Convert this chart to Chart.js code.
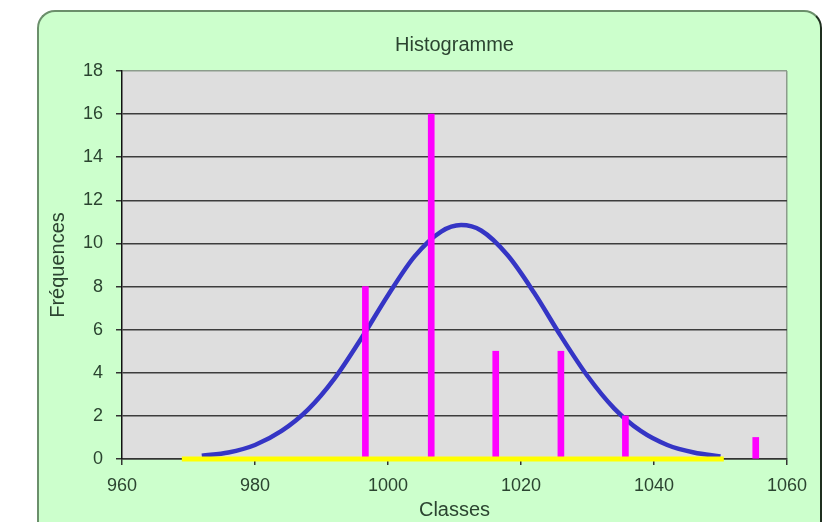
<!DOCTYPE html>
<html>
<head>
<meta charset="utf-8">
<title>Histogramme</title>
<script src="https://cdn.jsdelivr.net/npm/chart.js@4"></script>
<style>
  body { margin: 0; background: #fff; overflow: hidden; }
  #cadre {
    position: absolute; left: 37px; top: 10px;
    width: 781px; height: 540px;
    background: #ccffcc;
    border: 2px solid #6b8f6b;
    border-right-color: #1f2f1f;
    border-radius: 18px;
  }
  #c { position: absolute; left: 0; top: 0; }
</style>
</head>
<body>
<div id="cadre"></div>
<canvas id="c" width="826" height="522"></canvas>
<script>
/* global Chart */

var classes = [996.6, 1006.5, 1016.2, 1026.0, 1035.7, 1045.5, 1055.3];
var frequences = [8, 16, 5, 5, 2, 0, 1];

// courbe bleue relevée point par point
var courbeX = [972, 976, 980, 984, 988, 992, 996, 1000, 1004, 1008, 1011,
               1014, 1018, 1022, 1026, 1030, 1034, 1038, 1042, 1046, 1050];
var courbeY = [0.15, 0.3, 0.65, 1.3, 2.3, 3.75, 5.6, 7.6, 9.4, 10.55, 10.85,
               10.6, 9.45, 7.7, 5.7, 3.85, 2.35, 1.3, 0.65, 0.3, 0.12];

// trait jaune sur l'axe
var baseX = [969, 1050.5];
var baseY = [0, 0];

var texte = '#2b4430';

function points(xs, ys) {
    var out = [];
    for (var i = 0; i < xs.length; i++) {
        out.push({x: xs[i], y: ys[i]});
    }
    return out;
}

var fondGris = {
    id: 'fondGris',
    beforeDraw: function(chart) {
        var a = chart.chartArea, ctx = chart.ctx;
        ctx.save();
        ctx.fillStyle = '#dedede';
        ctx.fillRect(a.left, a.top, a.right - a.left, a.bottom - a.top);
        ctx.restore();
    }
};

var ctx = document.getElementById('c').getContext('2d');
var myChart = new Chart(ctx, {
    type: 'line',
    data: {
        datasets: [{
            label: 'base',
            data: points(baseX, baseY),
            borderColor: '#ffff00',
            borderWidth: 5,
            pointRadius: 0,
            clip: false,
            order: 0
        }, {
            type: 'bar',
            label: 'Fréquences',
            data: points(classes, frequences),
            backgroundColor: '#ff00ff',
            barThickness: 6,
            grouped: false,
            order: 1
        }, {
            label: 'courbe',
            data: points(courbeX, courbeY),
            borderColor: '#3535c5',
            borderWidth: 4.5,
            pointRadius: 0,
            cubicInterpolationMode: 'monotone',
            clip: false,
            order: 2
        }]
    },
    options: {
        responsive: false,
        animation: false,
        layout: { padding: { left: 0, right: 39, top: 0, bottom: 0 } },
        plugins: {
            legend: { display: false },
            tooltip: { enabled: false },
            title: {
                display: true,
                text: 'Histogramme',
                fullSize: false,
                color: texte,
                font: { family: 'Liberation Sans', size: 20, weight: 'normal' },
                padding: { top: 33, bottom: 14 }
            }
        },
        scales: {
            x: {
                type: 'linear',
                min: 960,
                max: 1060,
                offset: false,
                afterFit: function(s) { s.height = 63; },
                ticks: {
                    stepSize: 20,
                    padding: 10,
                    color: texte,
                    font: { family: 'Liberation Sans', size: 18 },
                    callback: function(v) { return String(v); }
                },
                grid: {
                    offset: false,
                    drawOnChartArea: true,
                    tickLength: 6,
                    tickColor: '#333',
                    color: function(c) {
                        return c.tick && c.tick.value === 1060 ? '#8c9c8c' : 'rgba(0,0,0,0)';
                    },
                    lineWidth: 1.5
                },
                border: { display: true, color: '#333', width: 1.5 },
                title: {
                    display: true,
                    text: 'Classes',
                    color: texte,
                    font: { family: 'Liberation Sans', size: 20 },
                    padding: { top: 0, bottom: 0 }
                }
            },
            y: {
                min: 0,
                max: 18,
                afterFit: function(s) { s.width = 122; },
                ticks: {
                    stepSize: 2,
                    padding: 13,
                    color: texte,
                    font: { family: 'Liberation Sans', size: 18 }
                },
                grid: {
                    tickLength: 6,
                    tickColor: '#333',
                    color: function(c) {
                        return c.tick && c.tick.value === 18 ? '#8c9c8c' : '#3c3c3c';
                    },
                    lineWidth: 1.5
                },
                border: { display: true, color: '#111', width: 1.5 },
                title: {
                    display: true,
                    text: 'Fréquences',
                    color: texte,
                    font: { family: 'Liberation Sans', size: 20 },
                    padding: { top: 46, bottom: 0 }
                }
            }
        }
    },
    plugins: [fondGris]
});
</script>
</body>
</html>
